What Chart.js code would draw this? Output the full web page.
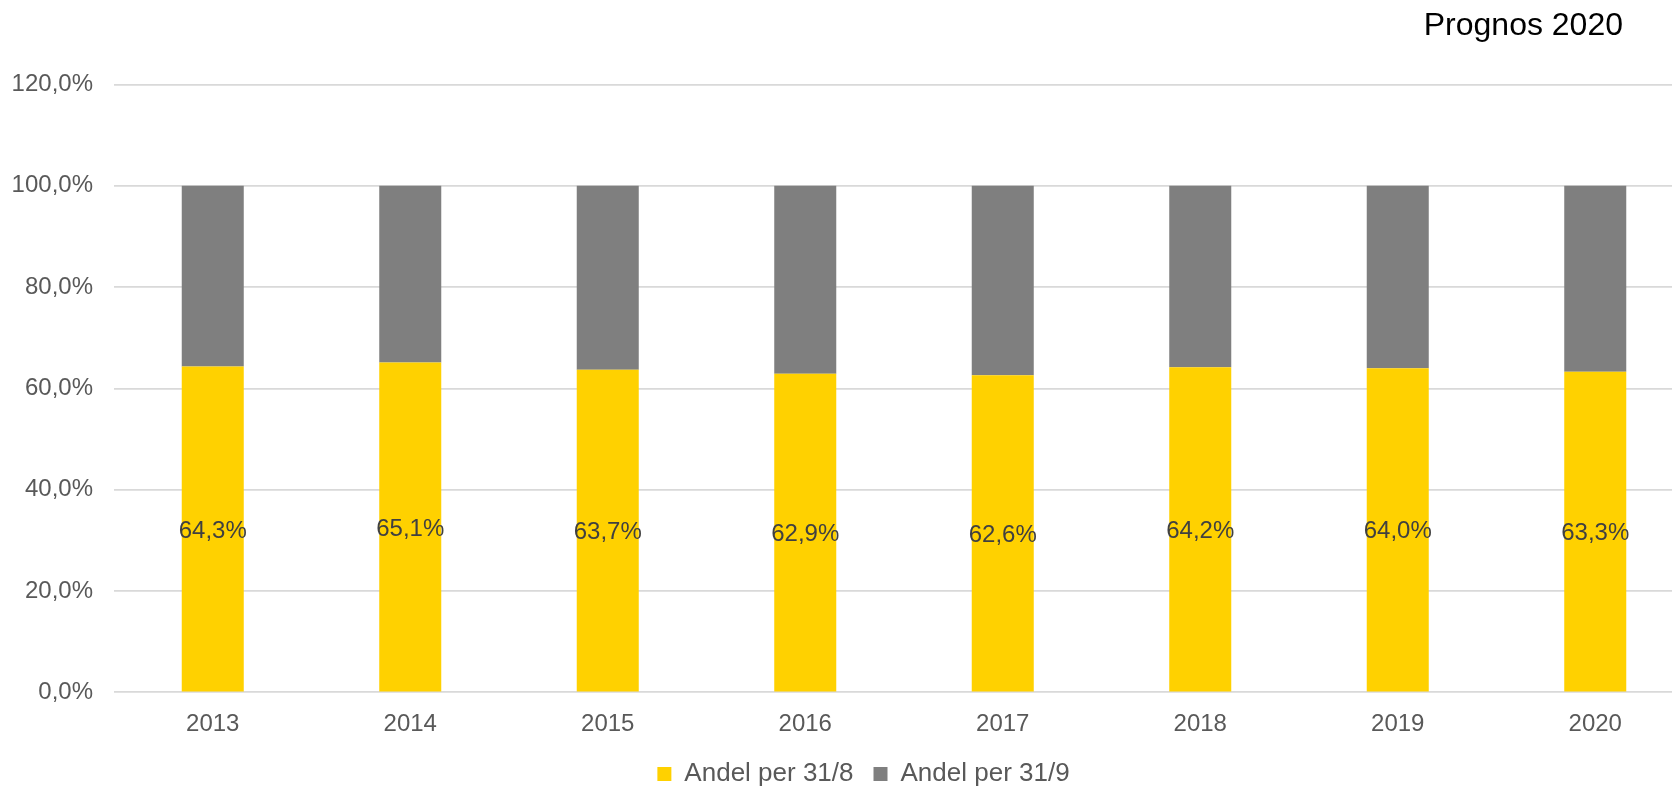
<!DOCTYPE html>
<html lang="sv">
<head>
    <meta charset="UTF-8">
    <title>Prognos 2020</title>
    <script src="https://cdn.jsdelivr.net/npm/chart.js"></script>
    <style>
        html, body { margin: 0; padding: 0; overflow: hidden; background: #fff; }
        #wrap { position: absolute; left: 0; top: 0; width: 1672px; height: 787px; overflow: hidden; }
        canvas { display: block; }
    </style>
</head>
<body>
    <div id="wrap">
        <canvas id="myChart" width="1727" height="797"></canvas>
    </div>

    <script>
        // data
        const years = ['2013', '2014', '2015', '2016', '2017', '2018', '2019', '2020'];
        const andel318 = [64.3, 65.1, 63.7, 62.9, 62.6, 64.2, 64.0, 63.3];
        const andel319 = [35.7, 34.9, 36.3, 37.1, 37.4, 35.8, 36.0, 36.7];
        const seriesNames = ['Andel per 31/8', 'Andel per 31/9'];
        const titleText = 'Prognos 2020';

        const FONT = '"Liberation Sans", Arial, sans-serif';
        const pct = v => Number(v).toFixed(1).replace('.', ',') + '%';

        // labels inside the yellow bars
        const valueLabels = {
            id: 'valueLabels',
            afterDatasetsDraw(chart) {
                const ctx = chart.ctx;
                const meta = chart.getDatasetMeta(0);
                ctx.save();
                ctx.font = '24px ' + FONT;
                ctx.fillStyle = '#404040';
                ctx.textAlign = 'center';
                ctx.textBaseline = 'middle';
                meta.data.forEach((bar, i) => {
                    const y = (bar.y + bar.base) / 2 + 2;
                    ctx.fillText(pct(andel318[i]), bar.x, y);
                });
                ctx.restore();
            }
        };

        // title top right
        const cornerTitle = {
            id: 'cornerTitle',
            afterDraw(chart) {
                const ctx = chart.ctx;
                ctx.save();
                ctx.font = '32px ' + FONT;
                ctx.fillStyle = '#000000';
                ctx.textAlign = 'right';
                ctx.textBaseline = 'alphabetic';
                ctx.fillText(titleText, 1623, 35);
                ctx.restore();
            }
        };

        var ctx = document.querySelector('#myChart').getContext('2d');

        var myChart = new Chart(ctx, {
            type: 'bar',
            data: {
                labels: years,
                datasets: [{
                    label: seriesNames[0],
                    data: andel318,
                    backgroundColor: '#FFD100',
                    borderWidth: 0,
                    barPercentage: 0.314,
                    categoryPercentage: 1,
                    yAxisID: 'y'
                }, {
                    label: seriesNames[1],
                    data: andel319,
                    backgroundColor: '#7F7F7F',
                    borderWidth: 0,
                    barPercentage: 0.314,
                    categoryPercentage: 1,
                    yAxisID: 'y'
                }]
            },
            options: {
                responsive: false,
                animation: false,
                events: [],
                layout: { padding: { top: 84.5, left: 0, right: 0, bottom: 0 } },
                plugins: {
                    title: { display: false },
                    tooltip: { enabled: false },
                    legend: {
                        display: true,
                        position: 'bottom',
                        labels: {
                            boxWidth: 14,
                            boxHeight: 14,
                            padding: 20,
                            color: '#595959',
                            font: { family: FONT, size: 26 }
                        }
                    }
                },
                scales: {
                    x: {
                        stacked: true,
                        grid: { display: false },
                        border: { display: false },
                        ticks: {
                            color: '#595959',
                            padding: 10,
                            maxRotation: 0,
                            font: { family: FONT, size: 24 }
                        },
                        afterFit(scale) { scale.height = 48.7; }
                    },
                    y: {
                        stacked: true,
                        min: 0,
                        max: 120,
                        grid: { color: '#D9D9D9', lineWidth: 1.8, drawTicks: false },
                        border: { display: false },
                        ticks: {
                            stepSize: 20,
                            padding: 21,
                            color: '#595959',
                            font: { family: FONT, size: 24 },
                            callback: v => pct(v)
                        },
                        afterFit(scale) { scale.width = 114; }
                    },
                    yRight: {
                        position: 'right',
                        display: true,
                        grid: { display: false },
                        border: { display: false },
                        ticks: { display: false },
                        afterFit(scale) { scale.width = 33; }
                    }
                }
            },
            plugins: [valueLabels, cornerTitle]
        });
    </script>
</body>
</html>
